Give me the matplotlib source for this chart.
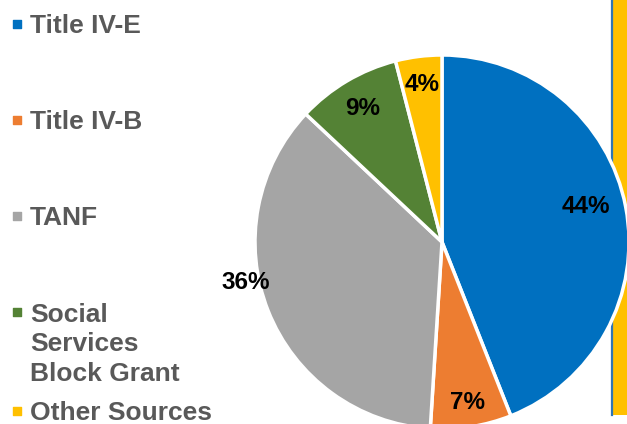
import numpy as np
import matplotlib.pyplot as plt
from matplotlib.patches import Rectangle

# Funding sources (share of total, %)
categories = ["Title IV-E", "Title IV-B", "TANF",
              "Social\nServices\nBlock Grant", "Other Sources"]
shares = [44, 7, 36, 9, 4]
colors = ["#0070C0", "#ED7D31", "#A5A5A5", "#548235", "#FFC000"]

# label placement tweaks (fraction of radius, angle shift in degrees)
label_r = [0.79, 0.87, 1.07, 0.83, 0.85]
label_shift = [3, 0, -10, 0, 0]

W, H = 627, 424
fig = plt.figure(figsize=(W / 100, H / 100), dpi=100)
ax = fig.add_axes([0, 0, 1, 1])

font = "Liberation Sans"
cx, cy, R = 442, H - 242, 187

# yellow side bar with a blue rule, behind the pie
ax.add_patch(Rectangle((613, H - 415), 14, 415, facecolor="#FFC000", edgecolor="none", zorder=0))
ax.plot([612.3, 612.3], [H - 415, H], color="#2E75B6", lw=1.6, zorder=0.5)

wedges, _ = ax.pie(shares, colors=colors, startangle=90, counterclock=False,
                   center=(cx, cy), radius=R,
                   wedgeprops=dict(edgecolor="white", linewidth=2.5))
for w in wedges:
    w.set_zorder(1)

for w, s, r, d in zip(wedges, shares, label_r, label_shift):
    ang = np.deg2rad((w.theta1 + w.theta2) / 2 + d)
    ax.text(cx + r * R * np.cos(ang), cy + r * R * np.sin(ang), f"{s}%",
            ha="center", va="center", fontsize=17.5, fontweight="bold",
            family=font, color="black", zorder=3)

# legend on the left
legend_y = [24, 120, 216, 312, 411]
for lab, c, y in zip(categories, colors, legend_y):
    ax.scatter([16.5], [H - y], marker="s", s=40, color=c, zorder=3)
    extra = 30 * lab.count("\n")  # baseline sits on the last line
    ax.text(30, H - y - 9 - extra, lab, ha="left", va="baseline", fontsize=19,
            fontweight="bold", family=font, color="#595959",
            linespacing=1.3, zorder=3)

ax.set_xlim(0, W)
ax.set_ylim(0, H)
ax.set_aspect("equal")
ax.axis("off")

fig.savefig("out.png", dpi=100)
